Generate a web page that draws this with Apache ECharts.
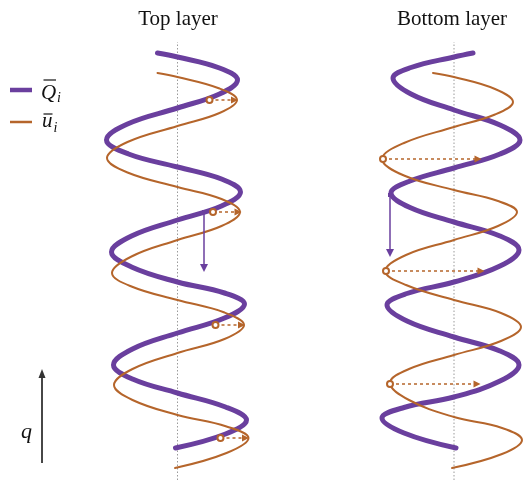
<!DOCTYPE html>
<html>
<head>
<meta charset="utf-8">
<script src="https://cdn.jsdelivr.net/npm/echarts@6/dist/echarts.min.js"></script>
<style>
  html, body { margin: 0; padding: 0; background: #ffffff; }
  #chart { width: 523px; height: 480px; }
</style>
</head>
<body>
<div id="chart"></div>
<script>
// Panel titles
const panelTitles = ['Top layer', 'Bottom layer'];

// Traces as [offset from the panel axis, q]
const qTop = [[-20,417],[0,413],[42,402],[60,390],[42,376],[0,362],[-50,346],[-71,330],[-49,316],[0,303],
  [44,291],[63,278],[44,264],[0,250],[-46,234],[-66,218],[-46,203],[0,188],[47,177],[67,166],
  [47,152],[0,137],[-45,121],[-64,105],[-45,91],[0,77],[48,63],[69,50],[48,36],[-2,22]];
const uTop = [[-20,397],[0,393],[42,381.5],[59.5,370],[42,357],[0,344],[-50,328],[-70.5,312],[-50,297.5],[0,283],
  [44,271],[62.5,258],[44,244],[0,230],[-46,213.5],[-65.5,197],[-46,183.5],[0,170],[47,157.5],[66.5,145],
  [47,131],[0,117],[-45,101],[-63.5,85],[-45,70],[0,55],[49,43.5],[71,32],[49,17],[-2.5,2]];
const qBottom = [[19,417],[0,413],[-43,402.5],[-61,392],[-43,376],[0,360],[46,345],[66,330],[46,316],[0,302],
  [-44,289],[-63,277],[-44,262.5],[0,248],[46,234],[65,220],[46,204],[0,188],[-47,176.5],[-67,165],
  [-47,149],[0,133],[46,119],[65,105],[46,89],[0,73],[-50,62.5],[-72,52],[-50,37],[2,22]];
const uBottom = [[-21,397],[0,393],[41,381],[59,368],[41,355.5],[0,343],[-50,327],[-72,311],[-50,294.5],[0,280],
  [44,269],[63,258],[44,244],[0,230],[-48,215],[-69,199],[-48,185],[0,170],[47,157],[67,143],
  [47,129],[0,115],[-45,101],[-64,87],[-45,70],[0,53],[48,42],[68,30],[48,16],[-2,2]];

// Displacement arrows, [start, end]
const uShiftTop = [[[32,370],[57,370]], [[35.5,258],[60.5,258]], [[38,145],[64,145]], [[43,32],[68,32]]];
const uShiftBottom = [[[-71,311],[24,311]], [[-68,199],[27,199]], [[-64,86],[23,86]]];
const qShiftTop = [[[26.5,258],[26.5,202]]];
const qShiftBottom = [[[-64,275],[-64,217]]];

// Extent of the dotted panel axis in q
const axisExtent = [-10, 428];

const PURPLE = '#6a3f9e';
const ORANGE = '#b5652b';
const SERIF = '"Liberation Serif", "Times New Roman", serif';

function panelSeries(idx, qData, uData, uShift, qShift, uSymbols) {
  return [
    {
      type: 'line', xAxisIndex: idx, yAxisIndex: idx, z: 1,
      data: axisExtent.map(v => [0, v]),
      symbol: 'none', silent: true,
      lineStyle: { color: '#9a9a9a', width: 1, type: [1.5, 2] }
    },
    {
      name: 'Q', type: 'line', xAxisIndex: idx, yAxisIndex: idx, z: 2,
      data: qData, smooth: 0.4, symbol: 'none', clip: false,
      lineStyle: { color: PURPLE, width: 5, cap: 'round' }
    },
    {
      name: 'u', type: 'line', xAxisIndex: idx, yAxisIndex: idx, z: 3,
      data: uData, smooth: 0.4, symbol: 'none', clip: false,
      lineStyle: { color: ORANGE, width: 2, cap: 'round' }
    },
    {
      type: 'lines', coordinateSystem: 'cartesian2d', xAxisIndex: idx, yAxisIndex: idx, z: 4,
      data: uShift.map(c => ({ coords: c })),
      symbol: uSymbols, symbolSize: [6, 7],
      lineStyle: { color: ORANGE, width: 1.5, type: [3, 3], opacity: 1, curveness: 0 }
    },
    {
      type: 'lines', coordinateSystem: 'cartesian2d', xAxisIndex: idx, yAxisIndex: idx, z: 4,
      data: qShift.map(c => ({ coords: c })),
      symbol: ['rect', 'triangle'], symbolSize: [4, 8],
      lineStyle: { color: PURPLE, width: 1.5, opacity: 1, curveness: 0 }
    }
  ];
}

const chart = echarts.init(document.getElementById('chart'), null, { renderer: 'canvas' });

chart.setOption({
  animation: false,
  backgroundColor: '#ffffff',
  grid: [
    { left: 97.5, top: 30, width: 160, height: 450, outerBoundsMode: 'none', containLabel: false },
    { left: 374, top: 30, width: 149, height: 450, outerBoundsMode: 'none', containLabel: false }
  ],
  xAxis: [
    { type: 'value', gridIndex: 0, min: -80, max: 80, show: false },
    { type: 'value', gridIndex: 1, min: -80, max: 69, show: false }
  ],
  yAxis: [0, 1].map(i => ({ type: 'value', gridIndex: i, min: -10, max: 440, show: false })),
  series: [
    ...panelSeries(0, qTop, uTop, uShiftTop, qShiftTop, ['emptyCircle', 'triangle']),
    ...panelSeries(1, qBottom, uBottom, uShiftBottom, qShiftBottom, ['emptyCircle', 'triangle'])
  ],
  graphic: [
    // panel titles
    { type: 'text', x: 178, y: 19, style: { text: panelTitles[0], font: '21px ' + SERIF, fill: '#111', align: 'center', verticalAlign: 'middle' } },
    { type: 'text', x: 452, y: 19, style: { text: panelTitles[1], font: '21px ' + SERIF, fill: '#111', align: 'center', verticalAlign: 'middle' } },
    // legend
    { type: 'line', shape: { x1: 10, y1: 90, x2: 32, y2: 90 }, style: { stroke: PURPLE, lineWidth: 4.5 } },
    { type: 'text', x: 41, y: 93, style: { text: 'Q', font: 'italic 21px ' + SERIF, fill: '#111', verticalAlign: 'middle' } },
    { type: 'line', shape: { x1: 43.5, y1: 80, x2: 56, y2: 80 }, style: { stroke: '#111', lineWidth: 1.2 } },
    { type: 'text', x: 57, y: 98, style: { text: 'i', font: 'italic 14px ' + SERIF, fill: '#111', verticalAlign: 'middle' } },
    { type: 'line', shape: { x1: 10, y1: 122, x2: 32, y2: 122 }, style: { stroke: ORANGE, lineWidth: 2.5 } },
    { type: 'text', x: 42, y: 121, style: { text: 'u', font: 'italic 21px ' + SERIF, fill: '#111', verticalAlign: 'middle' } },
    { type: 'line', shape: { x1: 43.5, y1: 114, x2: 52.5, y2: 114 }, style: { stroke: '#111', lineWidth: 1.2 } },
    { type: 'text', x: 53.5, y: 128, style: { text: 'i', font: 'italic 14px ' + SERIF, fill: '#111', verticalAlign: 'middle' } },
    // q direction
    { type: 'line', shape: { x1: 42, y1: 463, x2: 42, y2: 376 }, style: { stroke: '#333', lineWidth: 1.8 } },
    { type: 'polygon', shape: { points: [[42, 369], [38.5, 378], [45.5, 378]] }, style: { fill: '#333' } },
    { type: 'text', x: 21, y: 432, style: { text: 'q', font: 'italic 22px ' + SERIF, fill: '#111', verticalAlign: 'middle' } }
  ]
});
</script>
</body>
</html>
